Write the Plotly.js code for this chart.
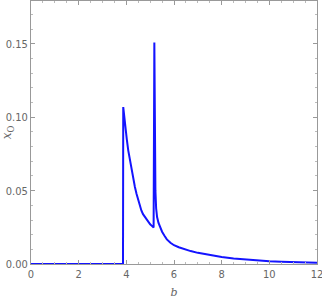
<!DOCTYPE html>
<html>
<head>
<meta charset="utf-8">
<script src="https://cdn.plot.ly/plotly-3.0.1.min.js"></script>
<style>
  body { margin: 0; background: #fff; }
  #myDiv { width: 322px; height: 300px; }
</style>
</head>
<body>
<div id="myDiv"></div>
<script>
// values
var bVals = [0, 1, 2, 3, 3.86, 3.87, 3.9, 3.96, 4.02, 4.08, 4.15, 4.22, 4.29, 4.36, 4.43, 4.5, 4.57,
  4.63, 4.7, 4.78, 4.85, 4.92, 5.0, 5.07, 5.145,
  5.175, 5.19, 5.205, 5.22, 5.25, 5.29, 5.35, 5.42, 5.5, 5.6, 5.7, 5.85, 6, 6.2, 6.4, 6.7, 7, 7.5, 8,
  8.5, 9, 9.5, 10, 10.5, 11, 11.5, 12];
var xoVals = [0, 0, 0, 0, 0, 0.107, 0.102, 0.093, 0.085, 0.0775, 0.0705, 0.064, 0.058, 0.0525, 0.0477, 0.0434, 0.0397,
  0.0365, 0.034, 0.032, 0.0302, 0.0286, 0.0271, 0.026, 0.0249,
  0.151, 0.11, 0.07, 0.05, 0.038, 0.032, 0.028, 0.025, 0.022, 0.0192, 0.0168, 0.0145, 0.0128, 0.0114, 0.0102,
  0.0088, 0.0076, 0.006, 0.0048, 0.0038, 0.003, 0.0024, 0.0019, 0.0016, 0.0013, 0.0011, 0.0009];
var xTicks = [0, 2, 4, 6, 8, 10, 12];
var yTicks = [0, 0.05, 0.10, 0.15];

var trace = {
  x: bVals,
  y: xoVals,
  mode: "lines",
  type: "scatter",
  cliponaxis: false,
  line: { color: "#1414ff", width: 2 },
  hoverinfo: "none"
};

var tickFont = { family: "Liberation Sans Narrow, DejaVu Sans Condensed, sans-serif", size: 11, color: "#666" };

var layout = {
  width: 322,
  height: 300,
  margin: { l: 31, r: 5, t: 1, b: 36 },
  paper_bgcolor: "#fff",
  plot_bgcolor: "#fff",
  showlegend: false,
  xaxis: {
    range: [0, 12],
    tickvals: xTicks,
    ticktext: xTicks.map(String),
    ticklabeloverflow: "allow",
    showgrid: false,
    zeroline: false,
    showline: true,
    linecolor: "#999",
    linewidth: 1,
    mirror: "allticks",
    ticks: "inside",
    ticklen: 4,
    tickcolor: "#999",
    tickfont: tickFont,
    minor: { dtick: 0.5, ticks: "inside", ticklen: 2, tickcolor: "#bbb" },
    title: { text: "<i>b</i>", font: { family: "DejaVu Serif, serif", size: 11, color: "#666" }, standoff: 8 }
  },
  yaxis: {
    range: [0, 0.1793],
    tickvals: yTicks,
    ticktext: yTicks.map(function (v) { return v.toFixed(2); }),
    ticklabeloverflow: "allow",
    showgrid: false,
    zeroline: false,
    showline: true,
    linecolor: "#999",
    linewidth: 1,
    mirror: "allticks",
    ticks: "inside",
    ticklen: 4,
    tickcolor: "#999",
    tickfont: tickFont,
    minor: { dtick: 0.01, ticks: "inside", ticklen: 2, tickcolor: "#bbb" },
    title: { text: "<i>x</i><sub>O</sub>", font: { family: "DejaVu Serif, serif", size: 12, color: "#666" }, standoff: 2 }
  }
};

Plotly.newPlot("myDiv", [trace], layout, { displayModeBar: false, staticPlot: true });
</script>
</body>
</html>
